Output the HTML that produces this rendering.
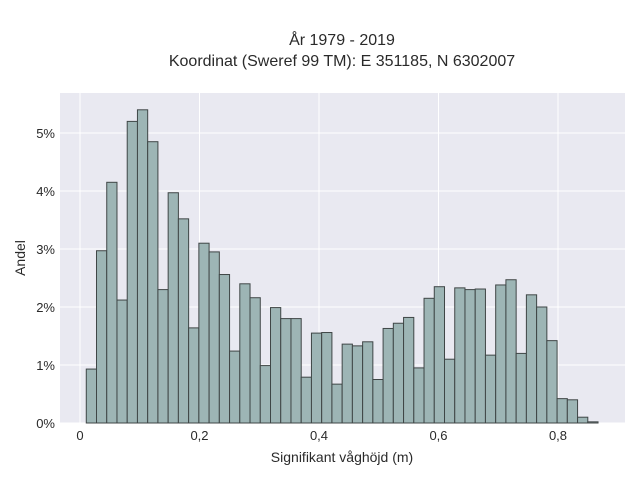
<!DOCTYPE html>
<html><head><meta charset="utf-8"><style>
body{margin:0;background:#fff;}
svg text{font-family:"Liberation Sans",sans-serif;fill:#2a2a2a;}
</style></head><body>
<svg id="chart" width="640" height="480" xmlns="http://www.w3.org/2000/svg">
<text x="342" y="45" font-size="16" text-anchor="middle">År 1979 - 2019</text>
<text x="342" y="66" font-size="16" text-anchor="middle">Koordinat (Sweref 99 TM): E 351185, N 6302007</text>
<rect x="60" y="93" width="565" height="330" fill="#e9e9f1"/>
<g id="grid"></g>
<g id="bars"></g>
<g id="ticks"></g>
<text x="342" y="462" font-size="14" text-anchor="middle">Signifikant våghöjd (m)</text>
<text x="25" y="258" font-size="14" text-anchor="middle" transform="rotate(-90 25 258)">Andel</text>
</svg>
<script>
const values=[0.93,2.97,4.15,2.12,5.2,5.4,4.85,2.3,3.97,3.52,1.64,3.1,2.95,2.56,1.24,2.4,2.16,0.99,1.99,1.8,1.8,0.79,1.55,1.56,0.67,1.36,1.33,1.4,0.75,1.63,1.72,1.82,0.95,2.15,2.35,1.1,2.33,2.3,2.31,1.17,2.38,2.47,1.2,2.21,2.0,1.42,0.42,0.4,0.1,0.02];
const binStart=0.0105;
const binWidth=0.01713;
const xTicks=[0,0.2,0.4,0.6,0.8];
const xTickLabels=["0","0,2","0,4","0,6","0,8"];
const yTicks=[0,1,2,3,4,5];
const yTickLabels=["0%","1%","2%","3%","4%","5%"];
const NS="http://www.w3.org/2000/svg";
const x=v=>80+v*597.5;
const y=v=>423-v*58;
const grid=document.getElementById('grid'),bars=document.getElementById('bars'),ticks=document.getElementById('ticks');
function mk(tag,attrs,parent){const e=document.createElementNS(NS,tag);for(const k in attrs)e.setAttribute(k,attrs[k]);parent.appendChild(e);return e;}
xTicks.forEach((t,i)=>{
  const l=mk('line',{x1:x(t),x2:x(t),y1:93,y2:423,stroke:'#fff','stroke-width':1},grid);
  
  
  const tx=mk('text',{x:x(t),y:440,'font-size':13,'text-anchor':'middle'},ticks);
  tx.textContent=xTickLabels[i];
  
  
});
yTicks.forEach((t,i)=>{
  const l=mk('line',{x1:60,x2:625,y1:y(t),y2:y(t),stroke:'#fff','stroke-width':1},grid);
  
  
  const tx=mk('text',{x:55,y:y(t)+5,'font-size':13,'text-anchor':'end'},ticks);
  tx.textContent=yTickLabels[i];
  
  
});
values.forEach((v,i)=>{
  const x0=x(binStart+i*binWidth),x1=x(binStart+(i+1)*binWidth);
  const r=mk('rect',{x:x0,y:y(v),width:x1-x0,height:y(0)-y(v),fill:'#9db5b5',stroke:'#3f4646','stroke-width':1},bars);
  
  
});
</script>
</body></html>
